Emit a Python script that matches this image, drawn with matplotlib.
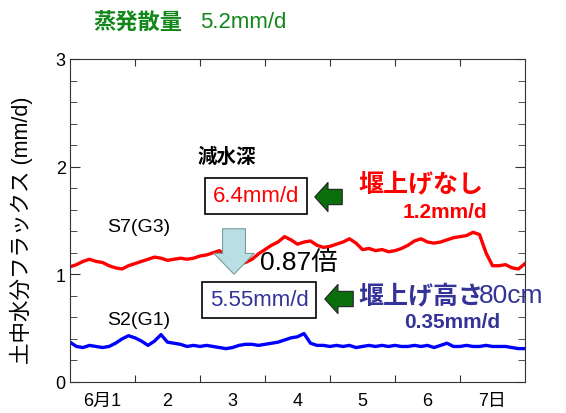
import numpy as np
import matplotlib.pyplot as plt
from matplotlib.patches import FancyArrowPatch

plt.rcParams['font.family'] = ['Liberation Sans', 'Noto Sans CJK JP']

# days since 6/1 00:00, sampled every 0.1 day
days = np.arange(71) / 10.0

flux_s7 = [1.07, 1.09, 1.12, 1.14, 1.12, 1.11, 1.08, 1.06, 1.05, 1.08,
           1.10, 1.12, 1.14, 1.16, 1.15, 1.13, 1.14, 1.15, 1.14, 1.15,
           1.17, 1.18, 1.20, 1.22, 1.16, 1.12, 1.10, 1.11, 1.14, 1.19,
           1.23, 1.27, 1.30, 1.35, 1.32, 1.28, 1.30, 1.31, 1.27, 1.25,
           1.26, 1.28, 1.30, 1.33, 1.29, 1.23, 1.24, 1.22, 1.23, 1.21,
           1.22, 1.24, 1.27, 1.31, 1.33, 1.30, 1.29, 1.30, 1.32, 1.34,
           1.35, 1.36, 1.39, 1.37, 1.20, 1.08, 1.08, 1.09, 1.06, 1.05,
           1.10]
flux_s2 = [0.37, 0.33, 0.32, 0.34, 0.33, 0.32, 0.33, 0.36, 0.40, 0.43,
           0.41, 0.38, 0.34, 0.38, 0.44, 0.37, 0.36, 0.35, 0.33, 0.34,
           0.33, 0.34, 0.33, 0.32, 0.31, 0.32, 0.34, 0.35, 0.35, 0.34,
           0.35, 0.36, 0.37, 0.39, 0.41, 0.42, 0.45, 0.36, 0.34, 0.34,
           0.33, 0.34, 0.33, 0.34, 0.32, 0.33, 0.34, 0.33, 0.34, 0.33,
           0.34, 0.33, 0.33, 0.34, 0.33, 0.34, 0.32, 0.34, 0.36, 0.33,
           0.33, 0.34, 0.33, 0.33, 0.34, 0.33, 0.33, 0.33, 0.32, 0.31,
           0.31]

day_labels = ['6月1', '2', '3', '4', '5', '6', '7日']
W, H = 566, 414


def px(x, y):
    # pixel position of the reference image -> figure fraction
    return x / W, 1 - y / H


fig = plt.figure(figsize=(W / 100, H / 100), dpi=100)
ax = fig.add_axes([70 / W, 31 / H, 455 / W, 323 / H])

ax.plot(days, flux_s7, color='#ff0000', lw=2.4)
ax.plot(days, flux_s2, color='#0000ff', lw=2.4)

ax.set_xlim(0, 7)
ax.set_ylim(0, 3)
ax.set_xticks(np.arange(1, 7), [''] * 6)
ax.set_xticks(np.arange(7) + 0.5, day_labels, minor=True)
ax.tick_params(axis='x', which='major', direction='in', length=5, top=True,
               color='#333333')
ax.tick_params(axis='x', which='minor', length=0, labelsize=13, pad=7)
ax.get_xticklabels(minor=True)[0].set_x(0.4)
ax.set_yticks([0, 1, 2, 3])
ax.set_yticks(np.arange(0, 3.01, 0.2), minor=True)
ax.tick_params(axis='y', which='both', direction='in', right=True,
               labelsize=13, pad=3, color='#333333')
ax.tick_params(axis='y', which='major', length=7)
ax.tick_params(axis='y', which='minor', length=5)
for s in ax.spines.values():
    s.set_color('#333333')

fig.text(*px(21, 230), '土中水分フラックス (mm/d)', rotation=90,
         ha='center', va='center', fontsize=15.5)

green = '#13881a'
fig.text(*px(93, 23), '蒸発散量', color=green, fontsize=16,
         fontweight='bold', va='center')
fig.text(*px(200, 23), '5.2mm/d', color=green, fontsize=16, va='center')

fig.text(*px(197, 157), '減水深', fontsize=14, fontweight='bold', va='center')
fig.text(*px(107, 228), 'S7(G3)', fontsize=14, va='center')
fig.text(*px(107, 321), 'S2(G1)', fontsize=14, va='center')

red = '#ff0000'
navy = '#333399'
box = dict(boxstyle='square,pad=0.35', fc='white', ec='black', lw=1.2)
fig.text(*px(256, 197), '6.4mm/d', color=red, fontsize=16,
         ha='center', va='center', bbox=box)
fig.text(*px(259, 301), '5.55mm/d', color=navy, fontsize=16,
         ha='center', va='center', bbox=box)

fig.text(*px(358, 184), '堰上げなし', color=red, fontsize=18,
         fontweight='bold', va='center')
fig.text(*px(487, 212), '1.2mm/d', color=red, fontsize=15,
         fontweight='bold', ha='right', va='center')
fig.text(*px(358, 296), '堰上げ高さ', color=navy, fontsize=18,
         fontweight='bold', va='center')
fig.text(*px(479, 296), '80cm', color=navy, fontsize=19, va='center')
fig.text(*px(500, 323), '0.35mm/d', color=navy, fontsize=15,
         fontweight='bold', ha='right', va='center')

fig.text(*px(260, 263), '0.87倍', fontsize=19, va='center')

# green arrows pointing to the boxes
for xa, xb, ya in [(345, 312, 198), (356, 322, 300)]:
    fig.patches.append(FancyArrowPatch(
        px(xa, ya), px(xb, ya), transform=fig.transFigure,
        arrowstyle='simple,head_length=9.5,head_width=21,tail_width=11',
        mutation_scale=1, fc='#0a6e0a', ec='#222222', lw=0.8))

# light blue down arrow between the boxes
fig.patches.append(FancyArrowPatch(
    px(234, 227), px(234, 278), transform=fig.transFigure,
    arrowstyle='simple,head_length=15,head_width=29,tail_width=16.5',
    mutation_scale=1, fc='#b9dfe4', ec='#7a9a9e', lw=0.8))

fig.savefig('out.png', dpi=100)
